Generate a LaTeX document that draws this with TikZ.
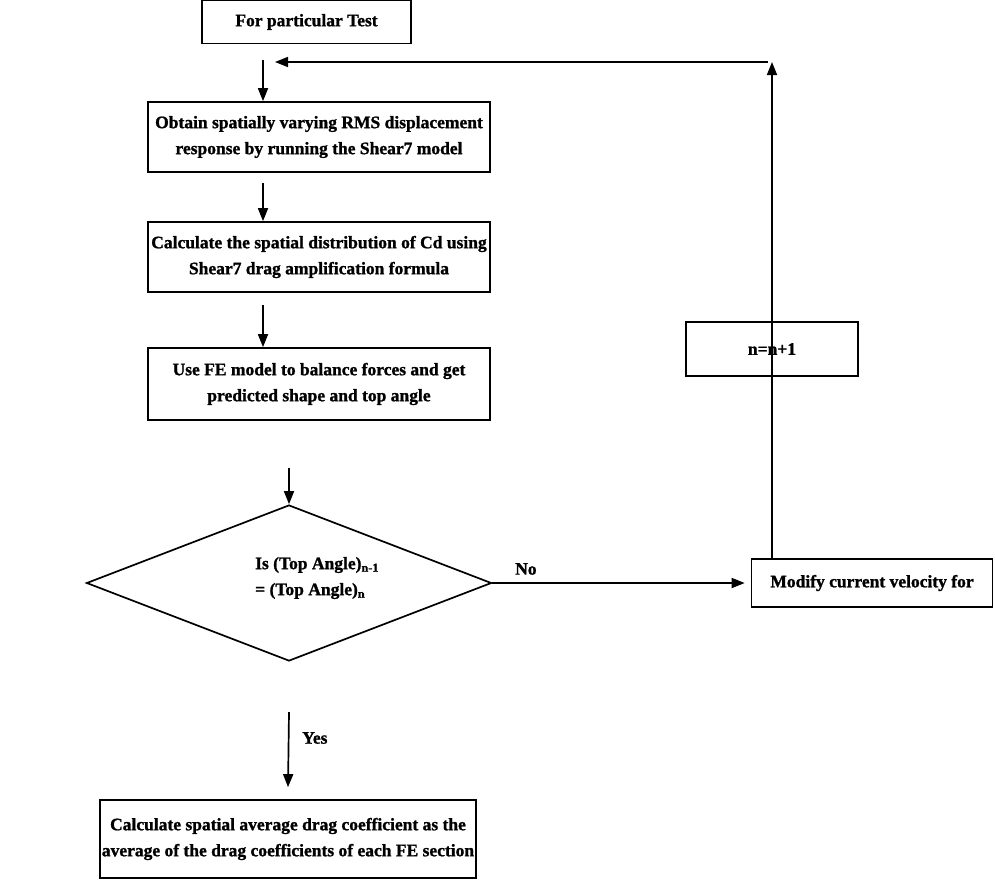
\documentclass[tikz,border=0pt]{standalone}
\usepackage{fontspec}
\setmainfont{Liberation Serif}[BoldFeatures={FakeBold=1.2}]
\usetikzlibrary{arrows.meta,shapes.geometric}
\begin{document}
\begin{tikzpicture}[x=1pt,y=-1pt,
  every node/.style={font=\bfseries\fontsize{17.5}{26}\selectfont},
  box/.style={draw,line width=1.7pt,rectangle,inner sep=0pt,align=center},
  arr/.style={line width=1.7pt,-{Triangle[length=13pt,width=10pt]}},
  ln/.style={line width=1.7pt}]
\useasboundingbox (0,0) rectangle (995,879);
% boxes
\node[box,minimum width=209pt,minimum height=43pt] (top) at (306.5,22) {For particular Test};
\node[box,minimum width=342pt,minimum height=70pt] (obtain) at (319,137) {Obtain spatially varying RMS displacement\\response by running the Shear7 model};
\node[box,minimum width=342pt,minimum height=70pt] (calc) at (319,257) {Calculate the spatial distribution of Cd using\\Shear7 drag amplification formula};
\node[box,minimum width=342pt,minimum height=72pt] (usefe) at (319,384) {Use FE model to balance forces and get\\predicted shape and top angle};
\node[draw,line width=1.7pt,diamond,minimum width=405pt,minimum height=156pt,inner sep=0pt] (dec) at (289,583) {};
\node[align=left,anchor=west,inner sep=0pt] (dectext) at (255,578) {Is (Top Angle)\textsubscript{n-1}\\= (Top Angle)\textsubscript{n}};
\node[box,minimum width=241pt,minimum height=48pt] (mod) at (872,583) {Modify current velocity for};
\node[box,minimum width=172pt,minimum height=54pt] (nbox) at (772,349) {n=n+1};
\node[box,minimum width=376pt,minimum height=78pt] (final) at (288,839) {Calculate spatial average drag coefficient as the\\average of the drag coefficients of each FE section};
% free ends
\coordinate (a1) at (263,60);
\coordinate (a2) at (263,183);
\coordinate (a3) at (263,305);
\coordinate (a4) at (289,468);
\coordinate (a5) at (289,712);
\coordinate (fbtop) at (772,62);
\coordinate (fbend) at (275,62);
% connectors
\draw[arr] (a1) -- (a1 |- obtain.north);
\draw[arr] (a2) -- (a2 |- calc.north);
\draw[arr] (a3) -- (a3 |- usefe.north);
\draw[arr] (a4) -- (dec.north);
\draw[arr] (a5) -- ([yshift=12pt]final.north);
\draw[arr] (dec.east) -- ([xshift=-6pt]mod.west);
\draw[arr] (nbox |- mod.north) -- (fbtop);
\draw[arr] ([xshift=-4pt]fbtop) -- (fbend);
% labels
\node[anchor=south west,inner sep=0pt] (nolab) at (515,575) {No};
\node[anchor=west,inner sep=0pt] (yeslab) at (302,738) {Yes};
\end{tikzpicture}
\end{document}
